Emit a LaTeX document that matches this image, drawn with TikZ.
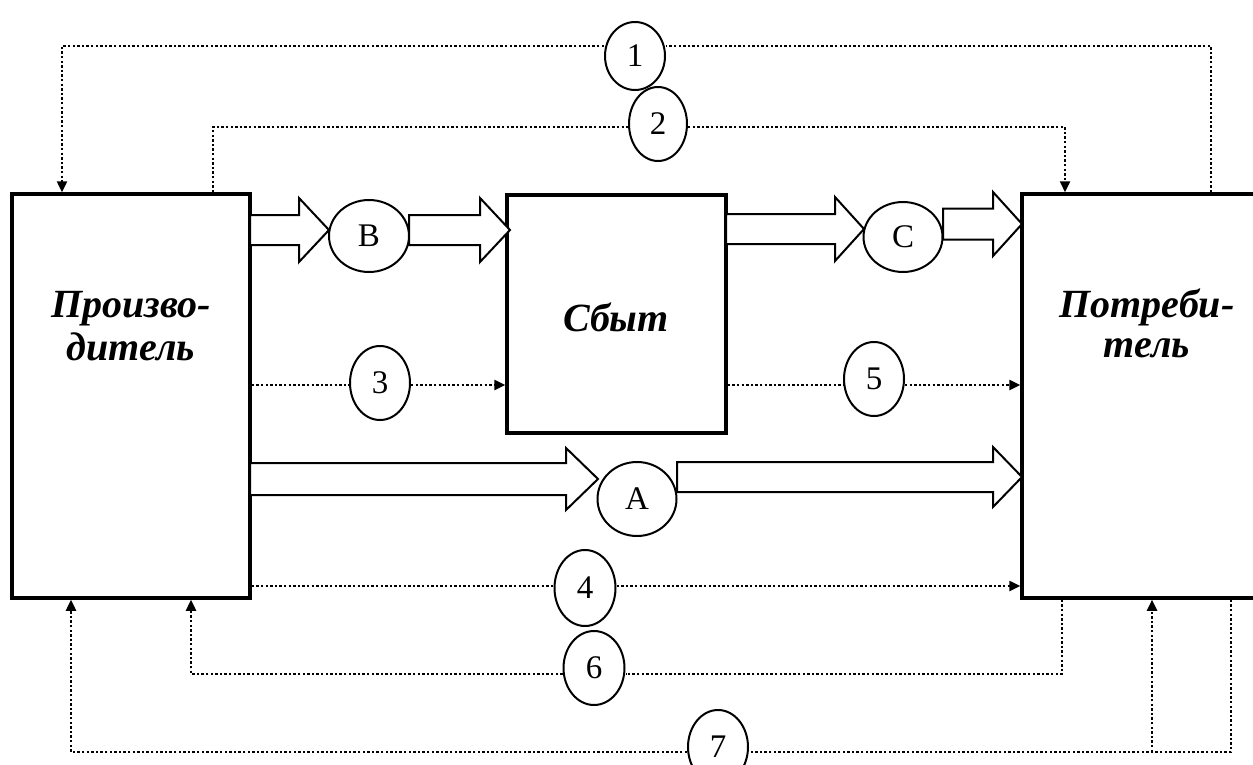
\documentclass[tikz,border=0pt]{standalone}
\usepackage{fontspec}
\setmainfont{Liberation Serif}
\usetikzlibrary{shapes.geometric,arrows.meta}
\tikzset{
 box/.style={draw, line width=3.5pt, fill=white, inner sep=0pt, rectangle},
 oval/.style={draw, ellipse, line width=2pt, fill=white, inner sep=0pt, font=\fontsize{33}{33}\selectfont},
 dot/.style={line width=2.4pt, dash pattern=on 2.4pt off 2.2pt},
 dotarrow/.style={dot, -{Triangle[length=11pt,width=10pt]}},
 blk/.style={draw, line width=2pt, fill=white, line join=miter},
 titletext/.style={font=\fontsize{40}{45}\selectfont\bfseries\itshape, align=center, inner sep=0pt}
}
\newcommand\blockarrow[6]{\draw[blk] (#1,{#3-#4}) -- ({#2-#6},{#3-#4}) -- ({#2-#6},{#3-#5}) -- (#2,#3) -- ({#2-#6},{#3+#5}) -- ({#2-#6},{#3+#4}) -- (#1,{#3+#4}) -- cycle;}
\begin{document}
\begin{tikzpicture}[x=1pt,y=-1pt]
\useasboundingbox (0,0) rectangle (1253,765);
\clip (0,0) rectangle (1253,765);
\fill[white] (0,0) rectangle (1253,765);
% main boxes
\node[box, minimum width=238pt, minimum height=404pt] (P) at (131,396) {};
\node[box, minimum width=219pt, minimum height=238pt] (S) at (616.5,314) {};
\node[box, minimum width=240pt, minimum height=404pt] (K) at (1142,396) {};
\node[titletext] (Pt) at (131,326) {Произво-\\[-2pt]дитель};
\node[titletext, anchor=base] (St) at (616,331) {Сбыт};
\node[titletext, font=\fontsize{40}{40}\selectfont\bfseries\itshape] (Kt) at (1147,323) {Потреби-\\тель};
% ovals
\node[oval, minimum width=80pt, minimum height=72pt] (B) at (369,236) {B};
\node[oval, minimum width=79pt, minimum height=70pt] (C) at (903,237) {C};
\node[oval, minimum width=79pt, minimum height=74pt] (A) at (637,499) {A};
\node[oval, minimum width=60pt, minimum height=68pt] (e1) at (635,56) {1};
\node[oval, minimum width=58pt, minimum height=74pt] (e2) at (658,124) {2};
\node[oval, minimum width=60pt, minimum height=74pt] (e3) at (380,383) {3};
\node[oval, minimum width=61pt, minimum height=76pt] (e4) at (585,588) {4};
\node[oval, minimum width=60pt, minimum height=74pt] (e5) at (874,379) {5};
\node[oval, minimum width=61pt, minimum height=74pt] (e6) at (594,668) {6};
\node[oval, minimum width=60pt, minimum height=74pt] (e7) at (718,747) {7};
% block arrows
\blockarrow{250}{329}{230}{15}{32}{30}
\blockarrow{409}{510}{230}{15}{32}{30}
\blockarrow{726}{864}{229}{15}{32}{29}
\blockarrow{943}{1022}{224}{15.5}{32}{29}
\blockarrow{250}{598}{479}{16}{31}{32}
\blockarrow{677}{1022}{477}{15}{30}{29}
% dotted flows
\draw[dot] (K.north -| 1211,0) |- (e1.east |- 0,46);
\draw[dotarrow] (e1.west |- 0,46) -| (P.north -| 62,0);
\draw[dot] (P.north -| 213,0) |- (e2.west |- 0,127);
\draw[dotarrow] (e2.east |- 0,127) -| (K.north -| 1065,0);
\draw[dot] (P.east |- 0,385) -- (e3.west |- 0,385);
\draw[dotarrow] (e3.east |- 0,385) -- (S.west |- 0,385);
\draw[dot] (S.east |- 0,385) -- (e5.west |- 0,385);
\draw[dotarrow] (e5.east |- 0,385) -- (K.west |- 0,385);
\draw[dot] (P.east |- 0,586) -- (e4.west |- 0,586);
\draw[dotarrow] (e4.east |- 0,586) -- (K.west |- 0,586);
\draw[dot] (K.south -| 1062,0) |- (e6.east |- 0,674);
\draw[dotarrow] (e6.west |- 0,674) -| (P.south -| 191,0);
\coordinate (j7) at (1152,752);
\draw[dot] (K.south -| 1231,0) |- (e7.east |- 0,752);
\draw[dotarrow] (e7.west |- 0,752) -| (P.south -| 71,0);
\draw[dotarrow] (j7) -- (K.south -| j7);
\end{tikzpicture}
\end{document}
